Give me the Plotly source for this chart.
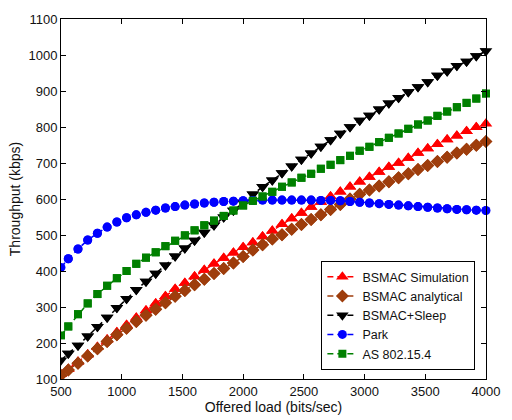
import plotly.graph_objects as go

# Offered load (bits/sec)
offered_load = [500, 560, 640, 720, 800, 880, 960, 1040, 1120, 1200, 1280, 1360, 1440,
                1520, 1600, 1680, 1760, 1840, 1920, 2000, 2080, 2160, 2240, 2320, 2400,
                2480, 2560, 2640, 2720, 2800, 2880, 2960, 3040, 3120, 3200, 3280, 3360,
                3440, 3520, 3600, 3680, 3760, 3840, 3920, 4000]

# Throughput (kbps) per scheme
bsmac_sim = [113, 128, 148, 168, 189, 210, 230, 250, 270, 290, 310, 330, 350,
             367, 385, 403, 420, 436, 451, 466, 479, 496, 512, 530, 546,
             561, 578, 592, 607, 620, 634, 648, 661, 675, 689, 700, 714,
             728, 740, 752, 765, 776, 788, 799, 809]
bsmac_analytical = [110, 125, 144, 164, 184, 204, 223, 241, 260, 277, 294, 312, 330,
                    346, 362, 377, 393, 407, 422, 440, 458, 473, 489, 501, 516,
                    529, 543, 556, 571, 585, 600, 613, 625, 636, 648, 659, 670,
                    682, 693, 704, 716, 728, 738, 749, 760]
bsmac_sleep = [152, 171, 193, 219, 245, 271, 298, 323, 348, 371, 393, 416, 441,
               463, 485, 507, 527, 549, 568, 590, 613, 634, 652, 672, 691,
               710, 727, 746, 764, 782, 800, 818, 832, 849, 866, 881, 897,
               911, 925, 943, 955, 970, 982, 997, 1011]
park = [410, 434, 461, 486, 505, 522, 536, 548, 556, 563, 569, 575, 579,
        583, 586, 589, 591, 593, 594, 595, 596, 597, 597, 597, 597,
        597, 597, 596, 596, 595, 593, 591, 589, 587, 585, 583, 581,
        579, 577, 575, 573, 571, 570, 569, 568]
as_802154 = [221, 246, 280, 310, 336, 359, 380, 400, 420, 437, 452, 469, 484,
             499, 513, 527, 540, 553, 568, 582, 595, 607, 620, 634, 646,
             659, 670, 684, 695, 708, 720, 734, 745, 758, 770, 782, 795,
             807, 818, 831, 843, 855, 867, 879, 893]

series_names = ["BSMAC Simulation", "BSMAC analytical", "BSMAC+Sleep", "Park", "AS 802.15.4"]
series_values = [bsmac_sim, bsmac_analytical, bsmac_sleep, park, as_802154]

styles = [
    dict(color="#ff0000", symbol="triangle-up", size=11),
    dict(color="#9e3d0c", symbol="diamond", size=10),
    dict(color="#000000", symbol="triangle-down", size=11),
    dict(color="#0000ff", symbol="circle", size=9),
    dict(color="#008000", symbol="square", size=8),
]

FONT = "Liberation Sans, Arial, sans-serif"

fig = go.Figure()
for name, vals, st in zip(series_names, series_values, styles):
    # dashed line with markers, clipped to the axes box
    fig.add_trace(go.Scatter(
        x=offered_load, y=vals, name=name, mode="lines+markers",
        line=dict(color=st["color"], width=1.5, dash="6px,4px"),
        marker=dict(color=st["color"], symbol=st["symbol"], size=st["size"],
                    line=dict(width=0)),
        cliponaxis=True,
    ))
    # markers inside the range drawn unclipped so the edge ones stay whole
    fig.add_trace(go.Scatter(
        x=offered_load[1:], y=vals[1:], mode="markers", showlegend=False,
        marker=dict(color=st["color"], symbol=st["symbol"], size=st["size"],
                    line=dict(width=0)),
        cliponaxis=False, hoverinfo="skip",
    ))

axis_common = dict(
    showline=True, linecolor="black", linewidth=1, mirror="ticks",
    ticks="inside", ticklen=5, tickcolor="black", showgrid=False, zeroline=False,
    ticklabeloverflow="allow",
    tickfont=dict(family=FONT, size=13, color="#111"),
)

fig.update_layout(
    width=512, height=420,
    margin=dict(l=61, r=14, t=14, b=39),
    paper_bgcolor="white", plot_bgcolor="white",
    font=dict(family=FONT, size=13, color="#111"),
    xaxis=dict(range=[500, 4000], dtick=500, tick0=500,
               title=dict(text="Offered load (bits/sec)", standoff=0,
                          font=dict(size=14)),
               **axis_common),
    yaxis=dict(range=[100, 1100], dtick=100, tick0=100,
               title=dict(text="Throughput (kbps)", standoff=4,
                          font=dict(size=14)),
               **axis_common),
    legend=dict(x=0.975, y=0.025, xanchor="right", yanchor="bottom",
                bgcolor="white", bordercolor="black", borderwidth=1,
                font=dict(family=FONT, size=12.5, color="#111"),
                itemwidth=30, tracegroupgap=0, traceorder="normal"),
    showlegend=True,
)

fig.write_html("out.html")
